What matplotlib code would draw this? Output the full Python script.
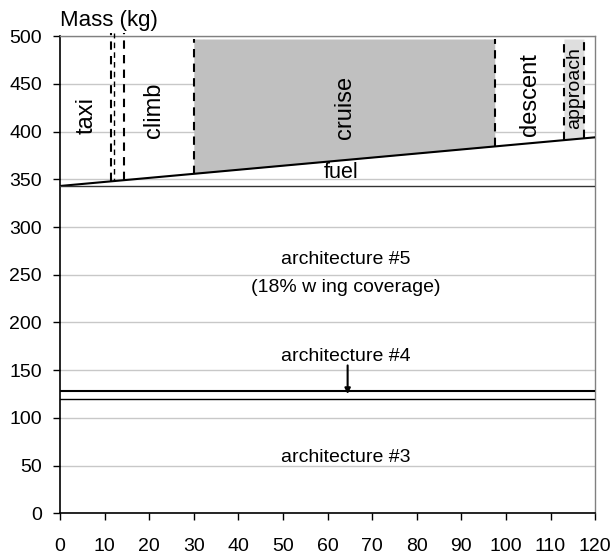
import numpy as np
import matplotlib.pyplot as plt

plt.rcParams['font.family'] = ['Liberation Sans', 'DejaVu Sans']

# mission time (x) and mass levels (kg)
fuel_x = [0, 120]
fuel_top = [343, 394]
arch5_top = 343
arch4 = 128
arch3 = 120
phase_bounds = [11.5, 14.4, 30, 97.5, 113, 117.5]
phase_names = ['taxi', 'climb', 'cruise', 'descent', 'approach']
phase_label_x = [6, 21, 64, 105.5, 115.3]
phase_label_y = [417, 422, 425, 439, 446]
phase_label_size = [17, 17, 17, 17, 14]
cruise_span = [30, 97.5]
approach_span = [113, 117.5]
top_level = 497

fig = plt.figure(figsize=(6.11, 5.56), dpi=100)
ax = fig.add_axes([0.0982, 0.0767, 0.8758, 0.8583])

ax.set_xlim(0, 120)
ax.set_ylim(0, 500)
ax.set_xticks(np.arange(0, 121, 10))
ax.set_yticks(np.arange(0, 501, 50))
ax.grid(axis='y', color='#c8c8c8', lw=1)
ax.set_axisbelow(True)

def fuel_at(x):
    return np.interp(x, fuel_x, fuel_top)

# cruise and approach shaded boxes
xs = np.linspace(*cruise_span, 20)
ax.fill_between(xs, fuel_at(xs), top_level, color='#c0c0c0', lw=0, zorder=2)
xs = np.linspace(*approach_span, 5)
ax.fill_between(xs, fuel_at(xs), top_level, color='#dedede', lw=0, zorder=2)

# fuel line and architecture lines
ax.plot(fuel_x, fuel_top, color='black', lw=1.5, zorder=4)
ax.axhline(arch5_top, color='#333333', lw=1, zorder=4)
ax.axhline(arch4, color='black', lw=1.5, zorder=4)
ax.axhline(arch3, color='black', lw=1, zorder=4)

# phase boundaries
for b in phase_bounds:
    top = 503 if b < 20 else top_level
    ax.plot([b, b], [fuel_at(b), top], color='black', lw=1.5, ls=(0, (4, 3)),
            zorder=5, clip_on=False)
ax.plot([12.1, 12.1], [fuel_at(12.1), 503], color='black', lw=1, ls=(2, (4, 3)),
        zorder=5, clip_on=False)

fs = 14
for name, x, y, s in zip(phase_names, phase_label_x, phase_label_y, phase_label_size):
    ax.text(x, y, name, rotation=90, ha='center', va='center', fontsize=s, zorder=6)

ax.text(63, 357, 'fuel', ha='center', va='center', fontsize=15.5, zorder=6)
ax.text(64, 266, 'architecture #5', ha='center', va='center', fontsize=fs)
ax.text(64, 237, '(18% w ing coverage)', ha='center', va='center', fontsize=fs)
ax.text(64, 164, 'architecture #4', ha='center', va='center', fontsize=fs)
ax.annotate('', xy=(64.5, arch4 - 3), xytext=(64.5, 155),
            arrowprops=dict(arrowstyle='-|>', color='black', lw=1.5,
                            mutation_scale=8, shrinkA=0, shrinkB=0), zorder=6)
ax.text(64, 59, 'architecture #3', ha='center', va='center', fontsize=fs)

ax.text(0, 1.01, 'Mass (kg)', transform=ax.transAxes, fontsize=16, ha='left', va='bottom')

for s in ['top', 'right']:
    ax.spines[s].set_color('#808080')
    ax.spines[s].set_linewidth(1)
for s in ['left', 'bottom']:
    ax.spines[s].set_color('black')
    ax.spines[s].set_linewidth(1.2)
ax.tick_params(direction='out', length=5, width=1, labelsize=fs)
ax.tick_params(axis='x', pad=13)
ax.tick_params(axis='y', pad=8)

fig.savefig('out.png', dpi=100)
